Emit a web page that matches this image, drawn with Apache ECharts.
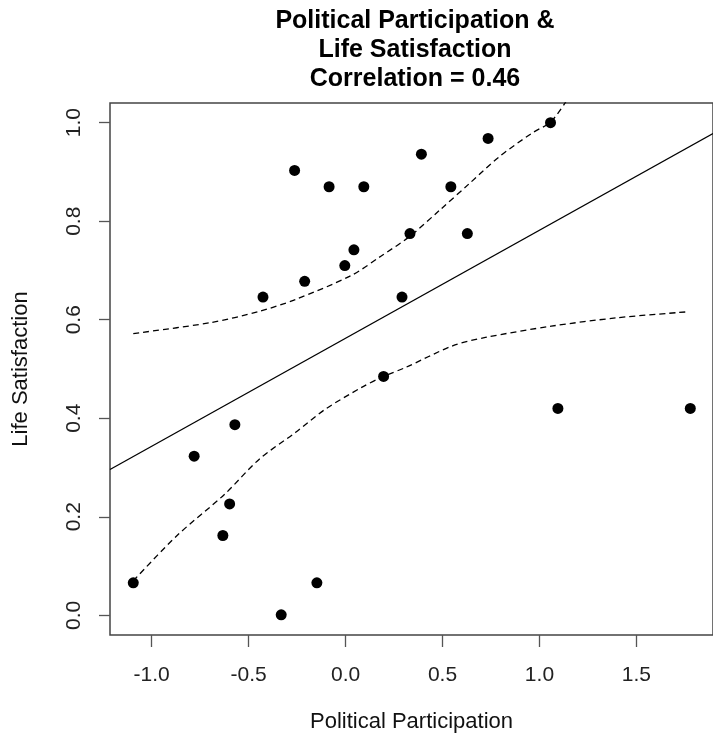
<!DOCTYPE html>
<html>
<head>
<meta charset="utf-8">
<script src="https://cdn.jsdelivr.net/npm/echarts@6/dist/echarts.min.js"></script>
<style>html,body{margin:0;padding:0;background:#fff;}#c{width:713px;height:738px;}</style>
</head>
<body>
<div id="c"></div>
<script>
const titleLines = ["Political Participation &", "Life Satisfaction", "Correlation = 0.46"];
const xName = "Political Participation";
const yName = "Life Satisfaction";
const xTicks = [-1.0, -0.5, 0.0, 0.5, 1.0, 1.5];
const yTicks = [0.0, 0.2, 0.4, 0.6, 0.8, 1.0];
const points = [
  [-0.263, 0.903], [-0.085, 0.870], [0.094, 0.870], [0.391, 0.936], [0.543, 0.870],
  [0.735, 0.968], [1.057, 1.000], [0.332, 0.775], [0.628, 0.775], [0.043, 0.742],
  [-0.004, 0.710], [-0.211, 0.678], [-0.426, 0.646], [0.291, 0.646], [0.196, 0.485],
  [1.095, 0.420], [1.778, 0.420], [-0.571, 0.387], [-0.781, 0.323], [-0.598, 0.226],
  [-0.633, 0.162], [-1.095, 0.066], [-0.148, 0.066], [-0.332, 0.001]
];
const fitLine = [[-1.215, 0.296], [1.895, 0.978]];
const upperBand = [
  [-1.095, 0.572], [-0.699, 0.594], [-0.445, 0.617], [-0.259, 0.641], [0.03, 0.690],
  [0.182, 0.729], [0.330, 0.769], [0.487, 0.823], [0.640, 0.877], [0.793, 0.931],
  [0.962, 0.979], [1.059, 1.002], [1.140, 1.045]
];
const lowerBand = [
  [-1.095, 0.070], [-0.869, 0.162], [-0.623, 0.246], [-0.445, 0.317], [-0.259, 0.371],
  [-0.106, 0.418], [0.080, 0.462], [0.196, 0.485], [0.309, 0.503], [0.552, 0.547],
  [0.721, 0.564], [1.061, 0.587], [1.400, 0.604], [1.761, 0.616]
];

const FONT = "'Liberation Sans', Arial, sans-serif";
const chart = echarts.init(document.getElementById('c'), null, {renderer: 'canvas'});
chart.setOption({
  animation: false,
  backgroundColor: '#ffffff',
  graphic: [{
    type: 'text',
    x: 415, y: 7,
    style: {
      text: titleLines.join('\n'),
      fontFamily: FONT, fontSize: 25, fontWeight: 'bold',
      lineHeight: 29, fill: '#000', align: 'center', verticalAlign: 'top'
    }
  }],
  grid: {
    left: 110, top: 103, right: -7, bottom: 102,
    show: true, borderColor: '#444', borderWidth: 1.5, backgroundColor: 'transparent'
  },
  xAxis: {
    type: 'value', min: -1.215, max: 1.895,
    name: xName, nameLocation: 'middle', nameGap: 76,
    nameTextStyle: {fontFamily: FONT, fontSize: 22, color: '#111', verticalAlign: 'top'},
    axisLine: {show: false, onZero: false},
    splitLine: {show: false},
    axisTick: {show: true, inside: false, length: 12, customValues: xTicks, lineStyle: {color: '#555', width: 1.3}},
    axisLabel: {customValues: xTicks, margin: 30, fontFamily: FONT, fontSize: 21, color: '#222',
      formatter: v => v.toFixed(1)}
  },
  yAxis: {
    type: 'value', min: -0.04, max: 1.04,
    name: yName, nameLocation: 'middle', nameGap: 78, nameRotate: 90,
    nameTextStyle: {fontFamily: FONT, fontSize: 22, color: '#111'},
    axisLine: {show: false, onZero: false},
    splitLine: {show: false},
    axisTick: {show: true, inside: false, length: 11, customValues: yTicks, lineStyle: {color: '#555', width: 1.3}},
    axisLabel: {customValues: yTicks, rotate: 90, margin: 25, fontFamily: FONT, fontSize: 21, color: '#222',
      formatter: v => v.toFixed(1)}
  },
  series: [
    {type: 'line', data: fitLine, showSymbol: false, symbol: 'none', clip: true,
     lineStyle: {color: '#000', width: 1.3}},
    {type: 'line', data: upperBand, showSymbol: false, symbol: 'none', clip: true,
     smooth: 0.3,
     lineStyle: {color: '#000', width: 1.3, type: [6, 4]}},
    {type: 'line', data: lowerBand, showSymbol: false, symbol: 'none', clip: true,
     smooth: 0.3,
     lineStyle: {color: '#000', width: 1.3, type: [6, 4]}},
    {type: 'scatter', data: points, symbol: 'circle', symbolSize: 11,
     itemStyle: {color: '#000', opacity: 1}}
  ]
});
</script>
</body>
</html>
